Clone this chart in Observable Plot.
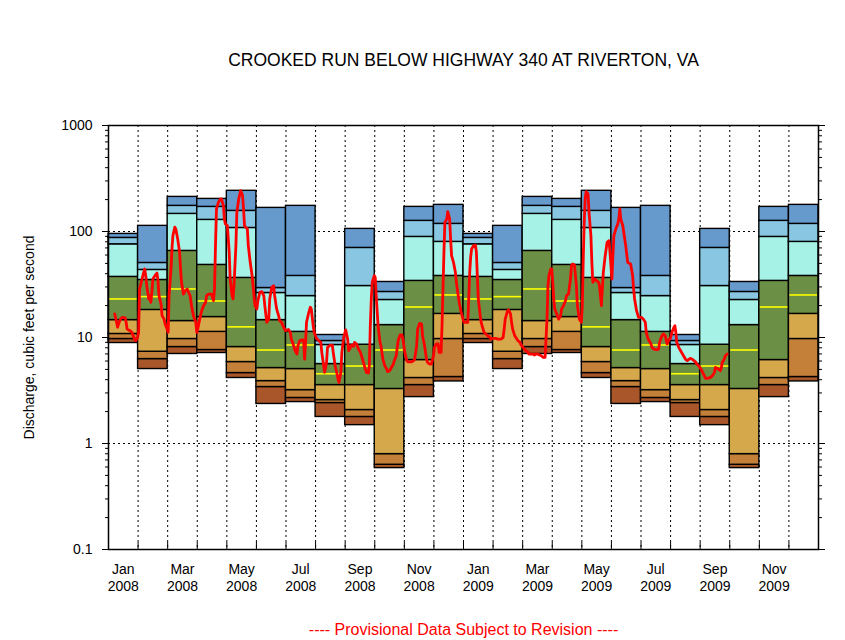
<!DOCTYPE html>
<html>
<head>
<meta charset="utf-8">
<script src="https://cdn.jsdelivr.net/npm/d3@7"></script>
<script src="https://cdn.jsdelivr.net/npm/@observablehq/plot@0.6"></script>
<style>
  html, body { margin: 0; padding: 0; background: #fff; }
  #chart svg { display: block; font-family: Arial, "Liberation Sans", sans-serif; }
</style>
</head>
<body>
<div id="chart"></div>
<script>
// ---------- tick labels ----------
const monthNames = ["Jan","Feb","Mar","Apr","May","Jun","Jul","Aug","Sep","Oct","Nov","Dec"];
const years = [2008, 2009];
const yTicks = [0.1, 1, 10, 100, 1000];

// ---------- monthly flow statistics (cfs), Jan..Dec ----------
const statMin = [8.87, 5.04, 6.99, 7.14, 4.15, 2.36, 2.46, 1.78, 1.49, 0.586, 2.74, 3.85];
const statP05 = [9.68, 6.26, 8.13, 7.62, 4.62, 3.41, 2.69, 2.41, 1.78, 0.63, 3.56, 4.24];
const statP10 = [10.8, 7.34, 9.68, 11.3, 5.87, 3.88, 3.19, 2.57, 2.07, 0.794, 4.15, 9.68];
const statP25 = [14.6, 18.2, 14.3, 15.6, 8.13, 5.15, 5.04, 3.56, 3.56, 3.27, 6.13, 16.7];
const statMedian = [23.1, 24.3, 28.7, 22.1, 12.6, 7.62, 8.5, 4.55, 5.38, 7.62, 19.4, 25.2];
const statP75 = [37.3, 34.9, 65.6, 48.4, 36.5, 14.6, 11.3, 5.62, 8.55, 13.1, 34.2, 38.1];
const statP90 = [75.7, 43.4, 146.6, 128.7, 108, 26.3, 24.6, 8.5, 30.6, 22.6, 88.9, 79.8];
const statP95 = [87.0, 50.5, 174.5, 170.7, 156.5, 29.3, 38.1, 9.27, 70, 26.9, 126, 118];
const statMax = [94.9, 113, 212, 203, 242, 167, 174.5, 10.56, 105.8, 33.4, 170.7, 178.3];

// ---------- daily discharge (cfs) ----------
const flowDates = [
"2008-01-07","2008-01-09","2008-01-10","2008-01-11","2008-01-13","2008-01-15","2008-01-18","2008-01-19","2008-01-20","2008-01-23","2008-01-25","2008-01-27","2008-01-29","2008-01-31",
"2008-02-01","2008-02-02","2008-02-04","2008-02-06","2008-02-07","2008-02-08","2008-02-09","2008-02-11","2008-02-12","2008-02-13","2008-02-14","2008-02-15","2008-02-17","2008-02-19","2008-02-20","2008-02-21","2008-02-23","2008-02-24","2008-02-26","2008-02-27","2008-02-29",
"2008-03-01","2008-03-02","2008-03-04","2008-03-05","2008-03-06","2008-03-08","2008-03-09","2008-03-11","2008-03-12","2008-03-13","2008-03-14","2008-03-15","2008-03-17","2008-03-19","2008-03-21","2008-03-22","2008-03-24","2008-03-26","2008-03-28","2008-03-30","2008-03-31",
"2008-04-01","2008-04-03","2008-04-05","2008-04-07","2008-04-09","2008-04-10","2008-04-12","2008-04-15","2008-04-17","2008-04-18","2008-04-19","2008-04-20","2008-04-22","2008-04-24","2008-04-25","2008-04-27","2008-04-28","2008-04-29",
"2008-05-01","2008-05-03","2008-05-04","2008-05-06","2008-05-07","2008-05-08","2008-05-10","2008-05-11","2008-05-13","2008-05-15","2008-05-17","2008-05-18","2008-05-19","2008-05-20","2008-05-22","2008-05-23","2008-05-25","2008-05-27","2008-05-29","2008-05-30",
"2008-06-01","2008-06-02","2008-06-04","2008-06-06","2008-06-08","2008-06-09","2008-06-11","2008-06-13","2008-06-14","2008-06-16","2008-06-18","2008-06-19","2008-06-21","2008-06-23","2008-06-24","2008-06-26","2008-06-29","2008-06-30",
"2008-07-03","2008-07-05","2008-07-06","2008-07-08","2008-07-10","2008-07-12","2008-07-13","2008-07-15","2008-07-18","2008-07-19","2008-07-20","2008-07-21","2008-07-22","2008-07-24","2008-07-26","2008-07-27","2008-07-29","2008-07-30",
"2008-08-01","2008-08-02","2008-08-04","2008-08-06","2008-08-07","2008-08-09","2008-08-10","2008-08-12","2008-08-13","2008-08-16","2008-08-18","2008-08-19","2008-08-21","2008-08-23","2008-08-24","2008-08-25","2008-08-27","2008-08-28","2008-08-30",
"2008-09-01","2008-09-03","2008-09-04","2008-09-05","2008-09-07","2008-09-09","2008-09-10","2008-09-12","2008-09-14","2008-09-16","2008-09-17","2008-09-19","2008-09-21","2008-09-22","2008-09-24","2008-09-25","2008-09-26","2008-09-27","2008-09-28","2008-09-30",
"2008-10-01","2008-10-02","2008-10-04","2008-10-06","2008-10-07","2008-10-09","2008-10-11","2008-10-13","2008-10-14","2008-10-16","2008-10-18","2008-10-20","2008-10-21","2008-10-23","2008-10-25","2008-10-27","2008-10-29","2008-10-30",
"2008-11-01","2008-11-03","2008-11-04","2008-11-08","2008-11-10","2008-11-11","2008-11-13","2008-11-14","2008-11-16","2008-11-18","2008-11-19","2008-11-21","2008-11-23","2008-11-24","2008-11-26","2008-11-28","2008-11-30",
"2008-12-01","2008-12-03","2008-12-05","2008-12-06","2008-12-08","2008-12-09","2008-12-11","2008-12-12","2008-12-14","2008-12-15","2008-12-17","2008-12-18","2008-12-19","2008-12-21","2008-12-23","2008-12-24","2008-12-26","2008-12-27","2008-12-29","2008-12-31",
"2009-01-01","2009-01-03","2009-01-05","2009-01-06","2009-01-07","2009-01-08","2009-01-09","2009-01-11","2009-01-13","2009-01-14","2009-01-15","2009-01-16","2009-01-18","2009-01-19","2009-01-21","2009-01-22","2009-01-24","2009-01-26","2009-01-28","2009-01-30","2009-01-31",
"2009-02-02","2009-02-03","2009-02-05","2009-02-06","2009-02-08","2009-02-10","2009-02-11","2009-02-12","2009-02-14","2009-02-15","2009-02-17","2009-02-18","2009-02-19","2009-02-21","2009-02-23","2009-02-24","2009-02-26","2009-02-27",
"2009-03-01","2009-03-02","2009-03-04","2009-03-06","2009-03-07","2009-03-09","2009-03-11","2009-03-13","2009-03-14","2009-03-16","2009-03-18","2009-03-20","2009-03-22","2009-03-24","2009-03-26","2009-03-27","2009-03-28","2009-03-30","2009-03-31",
"2009-04-01","2009-04-02","2009-04-03","2009-04-05","2009-04-07","2009-04-09","2009-04-10","2009-04-12","2009-04-14","2009-04-15","2009-04-17","2009-04-19","2009-04-20","2009-04-21","2009-04-23","2009-04-25","2009-04-26","2009-04-28","2009-04-30",
"2009-05-01","2009-05-02","2009-05-03","2009-05-04","2009-05-05","2009-05-07","2009-05-08","2009-05-10","2009-05-11","2009-05-12","2009-05-14","2009-05-16","2009-05-18","2009-05-19","2009-05-20","2009-05-21","2009-05-22","2009-05-23","2009-05-25","2009-05-26","2009-05-27","2009-05-29","2009-05-30",
"2009-06-01","2009-06-02","2009-06-03","2009-06-05","2009-06-07","2009-06-08","2009-06-09","2009-06-10","2009-06-12","2009-06-13","2009-06-15","2009-06-17","2009-06-18","2009-06-20","2009-06-22","2009-06-23","2009-06-24","2009-06-26","2009-06-28",
"2009-07-01","2009-07-03","2009-07-05","2009-07-06","2009-07-08","2009-07-11","2009-07-12","2009-07-14","2009-07-17","2009-07-19","2009-07-20","2009-07-22","2009-07-24","2009-07-26","2009-07-27","2009-07-28","2009-07-30","2009-07-31",
"2009-08-02","2009-08-04","2009-08-05","2009-08-06","2009-08-07","2009-08-09","2009-08-11","2009-08-13","2009-08-14","2009-08-16","2009-08-18","2009-08-20","2009-08-21","2009-08-23","2009-08-25","2009-08-27","2009-08-28","2009-08-30",
"2009-09-01","2009-09-03","2009-09-05","2009-09-06","2009-09-08","2009-09-11","2009-09-13","2009-09-15","2009-09-16","2009-09-18","2009-09-20","2009-09-21","2009-09-22","2009-09-23","2009-09-25","2009-09-26","2009-09-28"
];
const flowValues = [
16.7,13.9,12.5,13.4,14.9,15.5,15.3,13.9,12.0,11.6,11.2,10.0,9.33,10.0,
11.2,28.7,34.4,41.2,44.3,38.3,30.8,23.1,24.8,21.5,26.7,35.6,38.3,40.6,34.4,24.8,20.7,16.1,14.9,13.4,12.0,
11.2,24.8,44.3,68.4,91.5,110,106,85,73.6,63.7,44.3,33.2,25.7,27.7,28.7,27.1,24.8,18.6,15.5,13.9,11.2,
12.0,14.9,17.9,20.0,21.5,24.8,25.7,25.7,22.3,28.7,73.6,163,189,203,203,176,131,118,
114,63.7,35.6,24.8,23.1,30.8,73.6,152,203,243,218,163,114,110,106,73.6,51.2,38.3,24.8,20.0,
18.6,22.3,26.7,27.1,24.8,20.0,13.9,14.9,23.1,29.7,30.8,24.8,18.6,16.1,14.4,13.9,12.0,11.6,
11.9,11.2,9.67,8.68,7.5,6.98,8.37,9.33,9.53,9.0,6.26,9.0,13.9,16.7,19.3,18.6,12.9,11.2,
10.0,9.67,9.33,9.0,7.24,5.42,4.69,5.83,8.07,8.49,8.49,7.24,5.42,4.52,4.05,3.77,4.69,7.24,10.0,
11.8,9.67,7.5,7.78,8.49,8.25,9.0,8.68,7.78,7.24,6.73,5.83,5.04,4.69,4.62,5.42,12.9,23.1,33.2,38.3,
36.9,24.8,12.9,9.0,8.37,6.26,5.42,5.04,4.76,4.86,5.22,5.62,6.05,6.73,9.33,10.6,10.6,9.67,
7.24,6.05,5.9,5.9,6.05,6.26,8.37,12.0,13.6,13.4,10.4,8.37,6.26,5.83,5.62,5.62,6.73,
8.07,8.68,8.68,7.24,7.24,12.9,63.7,122,131,154,131,85,59.2,51.2,41.2,33.2,24.8,21.5,17.4,14.9,
13.9,13.9,13.9,23.1,41.2,57.1,68.4,73.6,74.3,63.7,38.3,23.1,16.1,13.9,12.0,11.2,10.8,10.4,10.0,9.67,9.8,
9.8,9.8,9.67,9.67,9.67,10.0,12.0,14.9,17.6,18.3,16.7,13.9,12.0,10.4,9.67,9.33,9.0,8.49,
8.07,7.78,7.5,7.24,6.98,6.98,6.98,6.83,6.98,6.98,6.83,6.73,6.5,6.5,14.9,30.8,38.3,44.3,44.3,
33.2,23.1,18.6,16.7,14.9,16.1,18.6,20.0,22.3,24.8,25.7,35.6,47.6,49.4,48.5,30.8,20.0,14.9,13.9,
20.0,55.1,122,203,238,226,152,91.5,51.2,33.2,35.6,34.4,33.2,30.8,24.8,20.0,28.7,41.2,59.2,68.4,79.1,82,63.7,
35.6,59.2,91.5,106,118,131,163,131,114,98.3,73.6,51.2,50.5,49.4,38.3,28.7,23.1,17.9,15.5,
15.5,14.9,13.9,11.2,9.67,8.68,8.07,7.78,7.67,7.78,9.0,10.2,10.8,10.4,9.33,8.68,9.67,9.67,
11.2,12.5,12.9,11.2,9.0,8.07,7.5,6.98,6.73,6.26,6.05,6.26,6.35,6.26,6.05,5.83,5.62,5.42,
5.1,4.69,4.3,4.11,4.11,4.2,4.37,4.69,5.22,5.1,4.96,4.86,5.22,5.83,6.26,6.73,6.98
];

// ---------- styling ----------
const bandColors = ["#a8562a", "#c48038", "#d6a84c", "#6b8f45", "#a6f2e6", "#88c6e2", "#6699cc"];

// ---------- build tables for the marks ----------
const bounds = [statMin, statP05, statP10, statP25, statP75, statP90, statP95, statMax];
const nMonths = years.length * 12;
const rects = [];
const medians = [];
for (let i = 0; i < nMonths; i++) {
  const k = i % 12;
  for (let j = 0; j < 7; j++) {
    rects.push({x1: i, x2: i + 1, y1: bounds[j][k], y2: bounds[j + 1][k], fill: bandColors[j]});
  }
  medians.push({x1: i, x2: i + 1, y: statMedian[k]});
}
function monthIndex(s) {
  const [y, m, d] = s.split("-").map(Number);
  const dim = new Date(Date.UTC(y, m, 0)).getUTCDate();
  return (y - years[0]) * 12 + (m - 1) + (d - 0.5) / dim;
}
const flow = flowDates.map((d, i) => ({t: monthIndex(d), v: flowValues[i]}));

const labelTicks = d3.range(0, nMonths, 2).map(i => i + 0.5);
const labelFor = x => {
  const i = Math.floor(x);
  return monthNames[i % 12] + "\n" + years[Math.floor(i / 12)];
};
const boundaries = d3.range(1, nMonths);
const minorTicks = [];
for (let e = -1; e < 3; e++) for (let m = 2; m <= 9; m++) minorTicks.push(m * Math.pow(10, e));

const chart = Plot.plot({
  width: 845,
  height: 640,
  marginLeft: 108,
  marginRight: 27,
  marginTop: 125,
  marginBottom: 91,
  style: {fontFamily: "Arial, 'Liberation Sans', sans-serif", fontSize: "14px", background: "#fff", color: "black"},
  x: {type: "linear", domain: [0, nMonths]},
  y: {type: "log", domain: [0.1, 1000]},
  color: {type: "identity"},
  marks: [
    // dotted grid
    Plot.ruleY([1, 10, 100], {stroke: "black", strokeWidth: 1, strokeDasharray: "2,3"}),
    Plot.ruleX(boundaries, {stroke: "black", strokeWidth: 1, strokeDasharray: "2,3"}),
    // percentile bands
    Plot.rect(rects, {x1: "x1", x2: "x2", y1: "y1", y2: "y2", fill: "fill", stroke: "black", strokeWidth: 1.4}),
    // median
    Plot.ruleY(medians, {y: "y", x1: "x1", x2: "x2", stroke: "#ffff00", strokeWidth: 1.6, insetLeft: 1, insetRight: 1}),
    // daily discharge
    Plot.line(flow, {x: "t", y: "v", stroke: "#ff0000", strokeWidth: 2.8, strokeLinejoin: "round"}),
    // frame
    Plot.frame({stroke: "black", strokeWidth: 1.5}),
    // axes
    Plot.axisY({anchor: "left", ticks: yTicks, tickSize: 6, tickPadding: 10, tickFormat: d => String(d), fontSize: 14, label: null}),
    Plot.axisY({anchor: "left", ticks: minorTicks, tickSize: 3, tickFormat: () => "", label: null}),
    Plot.axisY({anchor: "right", ticks: yTicks, tickSize: 6, tickFormat: () => "", label: null}),
    Plot.axisY({anchor: "right", ticks: minorTicks, tickSize: 3, tickFormat: () => "", label: null}),
    Plot.ruleX(boundaries, {y1: () => 0.1, y2: () => 0.1, insetBottom: 7, stroke: "black"}),
    Plot.axisX({anchor: "bottom", ticks: labelTicks, tickSize: 0, tickPadding: 13, tickFormat: labelFor, fontSize: 14, lineHeight: 1.2, label: null}),
    // texts
    Plot.text(["Discharge, cubic feet per second"], {frameAnchor: "left", textAnchor: "middle", lineAnchor: "middle", dx: -79, rotate: -90, fontSize: 14}),
    Plot.text(["CROOKED RUN BELOW HIGHWAY 340 AT RIVERTON, VA"], {frameAnchor: "top", lineAnchor: "middle", dy: -65, fontSize: 17.5}),
    Plot.text(["---- Provisional Data Subject to Revision ----"], {frameAnchor: "bottom", lineAnchor: "middle", dy: 80, fontSize: 16, fill: "#ff0000"})
  ]
});
document.getElementById("chart").appendChild(chart);
</script>
</body>
</html>
